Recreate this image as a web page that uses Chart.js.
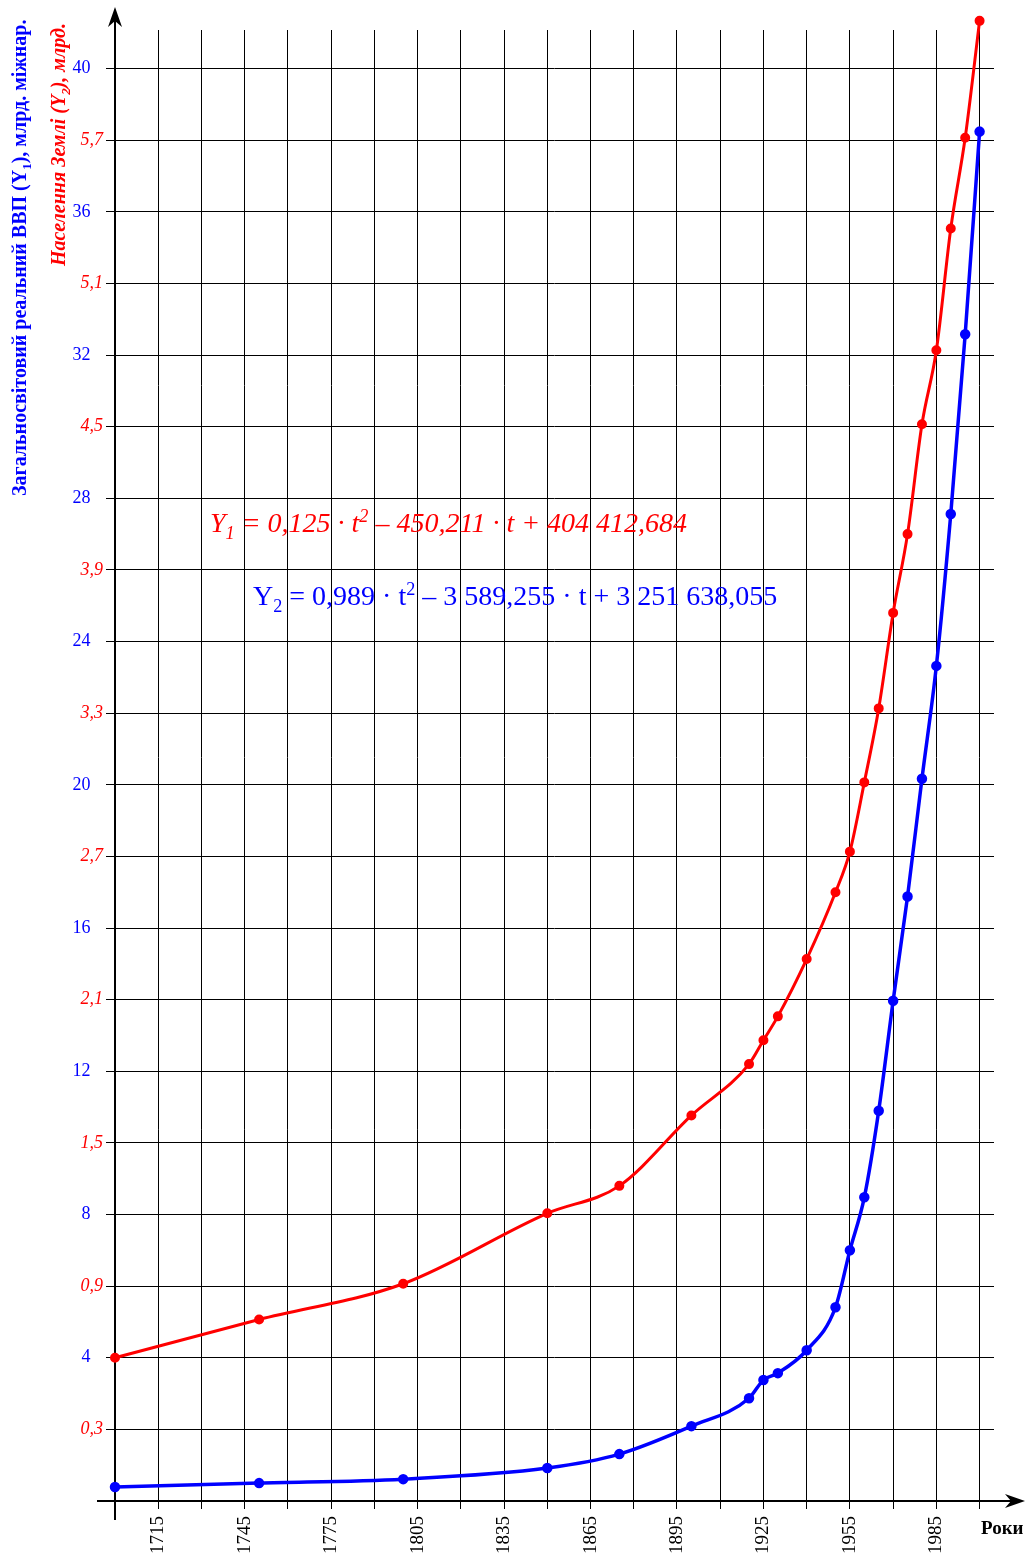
<!DOCTYPE html>
<html lang="uk">
<head>
  <meta charset="UTF-8">
  <title>ВВП і населення Землі</title>
  <script src="https://cdn.jsdelivr.net/npm/chart.js@4.4.1/dist/chart.umd.min.js"></script>
  <style>
    body { margin: 0; background: #fff; }
    #wrap { position: relative; width: 1025px; height: 1555px; font-family: "Liberation Serif", "Times New Roman", serif; }
    #myChart { position: absolute; left: 0; top: 0; }
    .eq { position: absolute; white-space: nowrap; line-height: 1; }
    .vt { position: absolute; white-space: nowrap; font-weight: bold; font-size: 20px; line-height: 22px;
          transform-origin: 0 0; transform: rotate(-90deg); }
    sub, sup { font-size: 65%; line-height: 0; }
  </style>
</head>

<body>

<div id="wrap">
  <canvas id="myChart" width="1025" height="1555"></canvas>

  <div class="vt" style="left:8px; top:496px; color:#0000ff">Загальносвітовий реальний ВВП (Y<sub>1</sub>), млрд. міжнар.</div>
  <div class="vt" style="left:47px; top:266px; color:#ff0000; font-style:italic">Населення Землі (Y<sub>2</sub>), млрд.</div>

  <div class="eq" style="left:210px; top:509px; font-size:28px; color:#ff0000; font-style:italic">Y<sub>1</sub> = 0,125 · t<sup>2</sup> – 450,211 · t + 404 412,684</div>
  <div class="eq" style="left:253px; top:582px; font-size:28px; color:#0000ff">Y<sub>2</sub> = 0,989 · t<sup>2</sup> – 3 589,255 · t + 3 251 638,055</div>

  <div style="position:absolute; left:981px; top:1517px; font-weight:bold; font-size:19px">Роки</div>
</div>

<script>

// years of observation
var years = [1700, 1750, 1800, 1850, 1875, 1900, 1920, 1925, 1930, 1940, 1950,
             1955, 1960, 1965, 1970, 1975, 1980, 1985, 1990, 1995, 2000];

// world real GDP (Y1), bln intl. dollars (left blue scale)
var gdp = [0.39, 0.50, 0.61, 0.92, 1.31, 2.09, 2.87, 3.38, 3.57, 4.21, 5.41,
           7.00, 8.48, 10.9, 13.97, 16.88, 20.17, 23.32, 27.56, 32.58, 38.24];

// world population (Y2), bln (red scale)
var population = [0.60, 0.76, 0.91, 1.205, 1.32, 1.615, 1.83, 1.93, 2.03, 2.27, 2.55,
                  2.72, 3.01, 3.32, 3.72, 4.05, 4.51, 4.82, 5.33, 5.71, 6.20];

// vertical grid every 15 years, year labels every 30
var gridYears = [1700, 1715, 1730, 1745, 1760, 1775, 1790, 1805, 1820, 1835, 1850,
                 1865, 1880, 1895, 1910, 1925, 1940, 1955, 1970, 1985, 2000];
var yearLabels = [1715, 1745, 1775, 1805, 1835, 1865, 1895, 1925, 1955, 1985];

var blue = "#0000ff";
var red = "#ff0000";
var yMax = 41.53;
var popRatio = 0.15; // 0,3 bln people on the same line as 2 on the GDP scale
var gridTop = 30;

// axes with arrows, drawn over the grid
var axesArrows = {
  id: "axesArrows",
  beforeDatasetsDraw: function(chart) {
    var c = chart.ctx;
    var x0 = chart.scales.x.getPixelForValue(1700);
    var y0 = chart.scales.y.getPixelForValue(0);
    c.save();
    // vertical grid lines start a bit lower than the plot top
    c.fillStyle = "#fff";
    c.fillRect(x0 + 1, 0, 1025 - x0, gridTop);
    c.strokeStyle = "#000";
    c.fillStyle = "#000";
    c.lineWidth = 2;
    c.beginPath();
    c.moveTo(x0, 1520);
    c.lineTo(x0, 12);
    c.moveTo(97, y0);
    c.lineTo(1020, y0);
    c.stroke();
    // y arrow
    c.beginPath();
    c.moveTo(x0, 7);
    c.lineTo(x0 - 7, 27);
    c.lineTo(x0, 21);
    c.lineTo(x0 + 7, 27);
    c.closePath();
    c.fill();
    // x arrow
    c.beginPath();
    c.moveTo(1025, y0);
    c.lineTo(1005, y0 - 7);
    c.lineTo(1011, y0);
    c.lineTo(1005, y0 + 7);
    c.closePath();
    c.fill();
    c.restore();
  }
};

var ctx = document.getElementById("myChart");
var myChart = new Chart(ctx, {
  type: "line",
  data: {
    labels: years,
    datasets: [{
      label: "Y1",
      data: years.map(function(y, i) { return { x: y, y: gdp[i] }; }),
      borderColor: blue,
      backgroundColor: blue,
      borderWidth: 3.5,
      pointRadius: 3.5,
      pointHoverRadius: 3.5,
      cubicInterpolationMode: "monotone",
      yAxisID: "y",
      clip: false
    }, {
      label: "Y2",
      data: years.map(function(y, i) { return { x: y, y: population[i] }; }),
      borderColor: red,
      backgroundColor: red,
      borderWidth: 3,
      pointRadius: 3.5,
      pointHoverRadius: 3.5,
      cubicInterpolationMode: "monotone",
      yAxisID: "y2",
      clip: false
    }]
  },
  options: {
    responsive: false,
    animation: false,
    layout: { padding: { left: 0, right: 31, top: 12, bottom: 0 } },
    plugins: { legend: { display: false }, tooltip: { enabled: false } },
    scales: {
      x: {
        type: "linear",
        min: 1700,
        max: 2005,
        border: { display: false },
        grid: { color: "#000", lineWidth: 1, tickLength: 8, tickColor: "#000" },
        afterBuildTicks: function(scale) {
          scale.ticks = gridYears.map(function(v) { return { value: v }; });
        },
        ticks: {
          autoSkip: false,
          minRotation: 90,
          maxRotation: 90,
          padding: 7,
          color: "#000",
          font: { family: "Liberation Serif", size: 19 },
          callback: function(v) { return yearLabels.indexOf(v) >= 0 ? String(v) : ""; }
        },
        afterFit: function(scale) { scale.height = 54; }
      },
      y: {
        min: 0,
        max: yMax,
        border: { display: false },
        grid: { color: "#000", lineWidth: 1, tickLength: 9, tickColor: "#000" },
        ticks: {
          stepSize: 2,
          includeBounds: false,
          padding: 3,
          color: function(c) { return c.tick.value % 4 === 0 ? blue : red; },
          font: function(c) {
            return { family: "Liberation Serif", size: 18,
                     style: c.tick && c.tick.value % 4 === 0 ? "normal" : "italic" };
          },
          callback: function(v) {
            if (v === 0) return "";
            if (v % 4 === 0) return String(v) + "\u2002\u2009";
            return (v * popRatio).toFixed(1).replace(".", ",");
          }
        },
        afterFit: function(scale) { scale.width = 115; }
      },
      y2: {
        min: 0,
        max: yMax * popRatio,
        display: false
      }
    }
  },
  plugins: [axesArrows]
});

</script>

</body>
</html>
